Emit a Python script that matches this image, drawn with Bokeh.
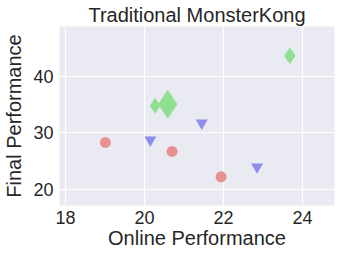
from bokeh.plotting import figure
from bokeh.models import Range1d, FixedTicker
from bokeh.embed import file_html
from bokeh.resources import INLINE

# data
red_x = [19.01, 20.70, 21.94]
red_y = [28.3, 26.7, 22.2]
blue_x = [20.15, 21.45, 22.85]
blue_y = [28.75, 31.75, 23.95]
green_x = [20.27, 20.59, 23.68]
green_y = [34.8, 35.1, 43.7]
green_sizes = [16, 29, 17]
x_ticks = [18, 20, 22, 24]
y_ticks = [20, 30, 40]

FONT = "Liberation Sans"
TXT = "#262626"

p = figure(width=341, height=259, output_backend="svg", toolbar_location=None,
           x_range=Range1d(17.85, 24.81), y_range=Range1d(17.1, 48.9),
           title="Traditional MonsterKong",
           min_border_left=56, min_border_right=7, min_border_top=26, min_border_bottom=54)
p.background_fill_color = "#EAEAF2"
p.border_fill_color = "white"
p.outline_line_color = None

p.title.text_font = FONT
p.title.text_font_size = "20px"
p.title.text_font_style = "normal"
p.title.text_color = TXT
p.title.align = "center"
p.title.standoff = 2
p.title.offset = 0

for ax in (p.xaxis[0], p.yaxis[0]):
    ax.axis_line_color = None
    ax.major_tick_line_color = None
    ax.minor_tick_line_color = None
    ax.major_tick_out = 0
    ax.major_tick_in = 0
    ax.minor_tick_out = 0
    ax.minor_tick_in = 0
    ax.major_label_text_font = FONT
    ax.major_label_text_font_size = "18px"
    ax.major_label_text_color = TXT
    ax.axis_label_text_font = FONT
    ax.axis_label_text_font_size = "20px"
    ax.axis_label_text_font_style = "normal"
    ax.axis_label_text_color = TXT

p.xaxis.major_label_standoff = 5
p.xaxis.axis_label_standoff = 0
p.yaxis.major_label_standoff = 6
p.yaxis.axis_label_standoff = 5

p.xaxis.axis_label = "Online Performance"
p.yaxis.axis_label = "Final Performance"
p.xaxis.ticker = FixedTicker(ticks=x_ticks)
p.yaxis.ticker = FixedTicker(ticks=y_ticks)

p.grid.grid_line_color = "white"
p.grid.grid_line_width = 1.2

p.scatter(red_x, red_y, marker="circle", size=11, fill_color="#E8918F", line_color=None)
p.scatter(blue_x, blue_y, marker="inverted_triangle", size=12, fill_color="#8E8DEB", line_color=None)
p.scatter(green_x, green_y, marker="diamond", size=green_sizes, fill_color="#8EDF8F", line_color=None)

open("out.html", "w").write(file_html(p, INLINE))
